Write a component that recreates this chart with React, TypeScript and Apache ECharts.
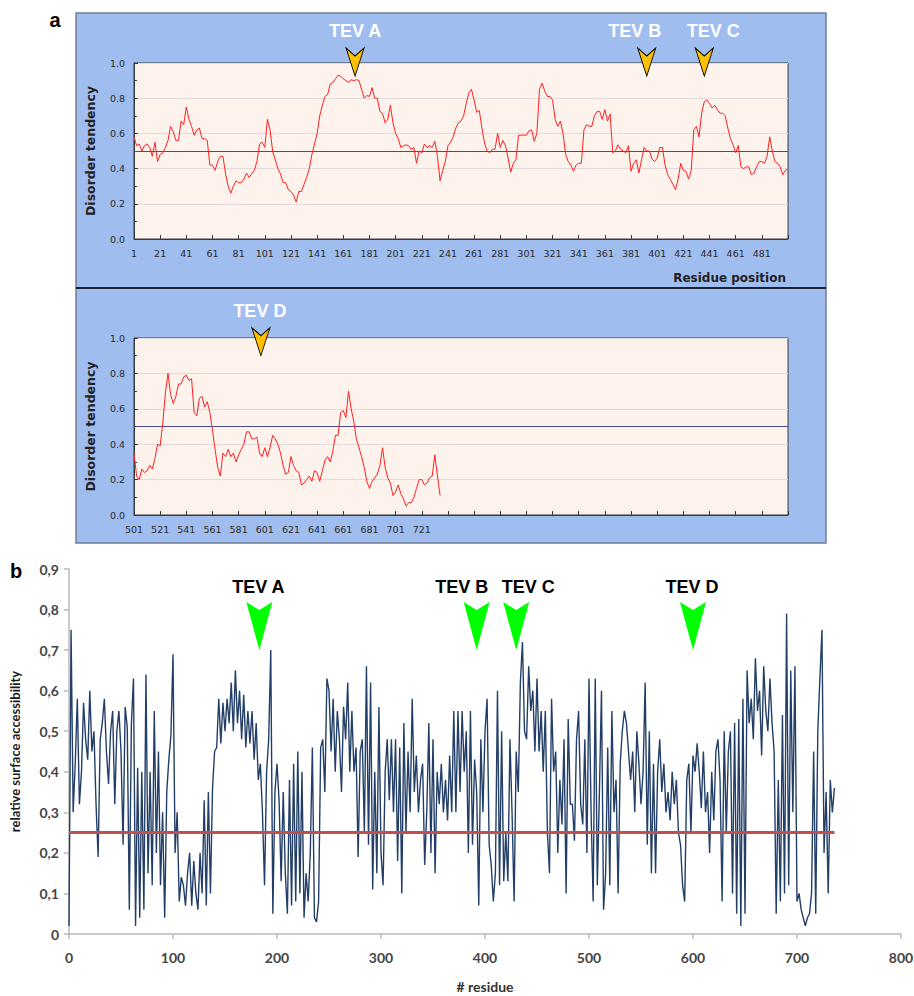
import React, { useEffect, useRef } from "react";
import * as echarts from "echarts";

// ---------- DATA ----------
// Panel a (upper): disorder tendency, residues 1..501, one value every 2 residues
const disorderUpperStart = 1;
const disorderStep = 2;
const disorderUpper = [
  0.58,0.53,0.54,0.50,0.53,0.54,0.52,0.47,0.55,0.44,
  0.48,0.49,0.52,0.56,0.64,0.61,0.56,0.56,0.67,0.65,
  0.75,0.68,0.64,0.59,0.62,0.63,0.57,0.57,0.56,0.42,
  0.42,0.39,0.44,0.47,0.47,0.37,0.30,0.26,0.30,0.33,
  0.32,0.32,0.34,0.375,0.35,0.37,0.39,0.44,0.54,0.55,
  0.52,0.68,0.62,0.50,0.45,0.40,0.37,0.32,0.32,0.28,
  0.27,0.25,0.21,0.27,0.27,0.31,0.35,0.40,0.48,0.54,
  0.60,0.70,0.76,0.81,0.82,0.88,0.89,0.91,0.93,0.925,
  0.91,0.90,0.89,0.905,0.90,0.905,0.90,0.85,0.80,0.815,
  0.81,0.86,0.80,0.80,0.725,0.715,0.66,0.68,0.76,0.66,
  0.60,0.57,0.52,0.53,0.535,0.53,0.51,0.52,0.43,0.50,
  0.49,0.54,0.52,0.53,0.52,0.555,0.47,0.33,0.39,0.44,
  0.53,0.55,0.58,0.63,0.66,0.67,0.70,0.77,0.83,0.85,
  0.79,0.72,0.73,0.63,0.545,0.50,0.49,0.51,0.51,0.60,
  0.52,0.56,0.53,0.46,0.38,0.43,0.45,0.59,0.59,0.59,
  0.59,0.615,0.62,0.555,0.60,0.85,0.885,0.84,0.81,0.81,
  0.79,0.68,0.64,0.67,0.60,0.48,0.44,0.42,0.385,0.42,
  0.43,0.43,0.62,0.65,0.64,0.64,0.70,0.725,0.725,0.68,
  0.735,0.67,0.71,0.49,0.50,0.535,0.51,0.50,0.49,0.53,
  0.385,0.43,0.45,0.375,0.45,0.52,0.50,0.50,0.455,0.44,
  0.46,0.52,0.52,0.42,0.365,0.34,0.31,0.28,0.34,0.43,
  0.39,0.385,0.34,0.39,0.62,0.64,0.58,0.715,0.78,0.79,
  0.77,0.745,0.76,0.735,0.715,0.715,0.70,0.63,0.57,0.535,
  0.49,0.53,0.41,0.40,0.41,0.41,0.365,0.375,0.41,0.44,
  0.44,0.43,0.47,0.58,0.50,0.44,0.43,0.41,0.365,0.39,
  0.40,
];

// Panel a (lower): disorder tendency, residues 501..735
const disorderLowerStart = 501;
const disorderLower = [
  0.35,0.22,0.20,0.26,0.24,0.25,0.28,0.26,0.32,0.40,
  0.39,0.52,0.69,0.80,0.68,0.63,0.67,0.74,0.74,0.78,
  0.79,0.76,0.77,0.58,0.56,0.66,0.67,0.61,0.64,0.58,
  0.48,0.37,0.27,0.22,0.35,0.33,0.37,0.33,0.35,0.30,
  0.34,0.37,0.40,0.47,0.47,0.43,0.43,0.44,0.35,0.33,
  0.38,0.33,0.38,0.45,0.43,0.40,0.35,0.28,0.23,0.24,
  0.33,0.28,0.25,0.24,0.17,0.18,0.20,0.22,0.19,0.25,
  0.24,0.19,0.25,0.31,0.33,0.30,0.36,0.45,0.45,0.58,
  0.59,0.55,0.70,0.60,0.53,0.43,0.38,0.33,0.27,0.19,
  0.15,0.19,0.21,0.23,0.28,0.38,0.27,0.21,0.18,0.11,
  0.13,0.17,0.12,0.09,0.05,0.07,0.07,0.10,0.15,0.20,
  0.20,0.17,0.18,0.21,0.22,0.34,0.22,0.11,
];
const disorderThreshold = 0.5;

// Panel b: relative surface accessibility, residues 0..736, one value every 2 residues
const rsaStart = 0;
const rsaStep = 2;
const rsa = [
  0.02,0.75,0.30,0.42,0.58,0.32,0.40,0.57,0.48,0.43,
  0.60,0.45,0.50,0.32,0.19,0.48,0.52,0.58,0.45,0.37,
  0.50,0.55,0.32,0.50,0.55,0.45,0.22,0.56,0.51,0.06,
  0.52,0.63,0.02,0.41,0.04,0.40,0.06,0.64,0.15,0.40,
  0.12,0.55,0.20,0.45,0.12,0.30,0.04,0.35,0.43,0.49,
  0.69,0.20,0.30,0.08,0.14,0.12,0.07,0.15,0.20,0.07,
  0.18,0.10,0.06,0.20,0.10,0.33,0.07,0.35,0.10,0.36,
  0.45,0.46,0.58,0.47,0.57,0.50,0.58,0.52,0.62,0.50,
  0.65,0.52,0.60,0.48,0.59,0.46,0.55,0.47,0.55,0.43,
  0.52,0.38,0.42,0.30,0.12,0.40,0.48,0.70,0.05,
  0.35,0.42,0.33,0.13,0.35,0.15,0.05,0.38,0.07,0.42,
  0.08,0.45,0.10,0.40,0.04,0.15,0.08,0.20,0.46,0.04,
  0.03,0.08,0.46,0.48,0.35,0.63,0.60,0.45,0.58,0.40,
  0.55,0.48,0.35,0.56,0.48,0.62,0.40,0.55,0.40,0.46,
  0.19,0.45,0.48,0.25,0.66,0.22,0.62,0.11,0.40,0.15,
  0.56,0.20,0.12,0.40,0.48,0.33,0.48,0.30,0.48,0.18,
  0.46,0.10,0.52,0.25,0.45,0.30,0.58,0.35,0.44,0.30,
  0.38,0.42,0.17,0.30,0.52,0.20,0.48,0.15,0.40,0.32,
  0.42,0.30,0.38,0.28,0.44,0.30,0.55,0.30,0.55,0.35,
  0.55,0.40,0.50,0.20,0.55,0.22,0.43,0.35,0.07,
  0.48,0.30,0.50,0.58,0.22,0.17,0.08,0.15,0.60,0.12,
  0.50,0.13,0.25,0.13,0.48,0.30,0.08,0.45,0.35,0.62,
  0.72,0.50,0.48,0.66,0.55,0.60,0.45,0.63,0.45,0.55,
  0.40,0.55,0.25,0.15,0.58,0.40,0.45,0.20,0.38,0.27,
  0.48,0.10,0.53,0.32,0.32,0.23,0.48,0.55,0.32,0.27,
  0.48,0.20,0.63,0.30,0.08,0.63,0.12,0.35,0.60,0.06,
  0.15,0.46,0.12,0.55,0.30,0.38,0.10,0.42,0.50,0.55,
  0.52,0.45,0.38,0.45,0.30,0.50,0.42,0.32,0.40,0.62,
  0.22,0.50,0.15,0.42,0.15,0.40,0.48,0.35,0.42,0.30,
  0.35,0.28,0.40,0.32,0.38,0.25,0.22,0.12,0.08,
  0.38,0.42,0.25,0.44,0.40,0.47,0.40,0.31,0.45,0.30,
  0.35,0.20,0.40,0.28,0.45,0.48,0.38,0.08,0.50,0.25,
  0.45,0.50,0.10,0.52,0.05,0.53,0.02,0.58,0.05,0.65,
  0.52,0.58,0.48,0.68,0.55,0.60,0.44,0.66,0.55,0.50,
  0.63,0.52,0.45,0.05,0.38,0.08,0.54,0.10,0.79,0.12,
  0.65,0.30,0.66,0.08,0.10,0.06,0.04,0.02,0.04,0.05,
  0.10,0.45,0.05,0.50,0.63,0.75,0.20,0.35,0.10,0.38,
  0.30,0.36,
];
const rsaThreshold = 0.25;

// TEV cleavage-site annotations (residue positions)
const tevNamesA = ["TEV A", "TEV B", "TEV C"];
const tevResiduesA = [170, 393, 437];
const tevNamesD = ["TEV D"];
const tevResiduesD = [598];
const tevNamesB = ["TEV A", "TEV B", "TEV C", "TEV D"];
const tevResiduesB = [183, 392, 430, 600];

// ---------- STYLE ----------
const labelShift: Record<string, number> = { "TEV A": 0, "TEV B": -12, "TEV C": 9, "TEV D": -1 };
const labelShiftB: Record<string, number> = { "TEV A": -1, "TEV B": -15, "TEV C": 12, "TEV D": -1 };

const yellowArrow = "path://M0 0 L9 8 L18 0 L9 28 Z";
const greenArrow = "path://M0 0 L13 8 L26 0 L13 48 Z";

export default function App() {
  const ref = useRef<HTMLDivElement>(null);

  useEffect(() => {
    if (!ref.current) return;
    const chart = echarts.init(ref.current, undefined, { renderer: "svg" });

    const upperData = disorderUpper.map((v, i) => [i * disorderStep + disorderUpperStart - 1, v]);
    const lowerData = disorderLower.map((v, i) => [i * disorderStep, v]);
    const rsaData = rsa.map((v, i) => [rsaStart + i * rsaStep, v]);
    const rsaEnd = rsaStart + (rsa.length - 1) * rsaStep;

    const yellowMarks = (names: string[], residues: number[], start: number, tipY: number) =>
      names.map((n, k) => ({
        name: n,
        coord: [residues[k] - start, tipY],
        symbol: yellowArrow,
        symbolSize: [18, 28],
        symbolOffset: [0, "-50%"],
        itemStyle: { color: "#ffc000", borderColor: "#000", borderWidth: 1 },
        label: {
          show: true,
          formatter: n,
          position: "top",
          distance: 7,
          offset: [labelShift[n], 0],
          color: "#ffffff",
          fontSize: 18,
          fontWeight: "bold",
          fontFamily: "Liberation Sans, Arial, sans-serif",
          textBorderWidth: 0,
        },
      }));

    const greenMarks = tevNamesB.map((n, k) => ({
      name: n,
      coord: [tevResiduesB[k], 0.7],
      symbol: greenArrow,
      symbolSize: [26, 48],
      symbolOffset: [0, "-50%"],
      itemStyle: { color: "#00ff00" },
      label: {
        show: true,
        formatter: n,
        position: "top",
        distance: 6,
        offset: [labelShiftB[n], 0],
        color: "#000000",
        fontSize: 18,
        fontWeight: "bold",
        fontFamily: "Liberation Sans, Arial, sans-serif",
        textBorderWidth: 0,
      },
    }));

    const disorderXAxis = (gridIndex: number, base: number, lastLabel: number) => ({
      type: "value",
      gridIndex,
      min: 0,
      max: 500,
      interval: 20,
      axisLine: { show: true, lineStyle: { color: "#3a3a3a", width: 1 } },
      axisTick: { show: true, inside: true, length: 4, lineStyle: { color: "#3a3a3a" } },
      splitLine: { show: false },
      axisLabel: {
        show: true,
        margin: 9,
        fontSize: 9.5,
        fontFamily: "DejaVu Sans",
        color: "#2a2a2a",
        formatter: (v: number) => (v <= lastLabel ? String(v + base) : ""),
      },
    });
    const disorderYAxis = (gridIndex: number) => ({
      type: "value",
      gridIndex,
      min: 0,
      max: 1,
      interval: 0.2,
      name: "Disorder tendency",
      nameLocation: "middle",
      nameGap: 37,
      nameRotate: 90,
      nameTextStyle: { fontSize: 12.5, fontWeight: "bold", fontFamily: "DejaVu Sans", color: "#222" },
      axisLine: { show: true, lineStyle: { color: "#3a3a3a", width: 1 } },
      axisTick: { show: true, inside: true, length: 4, lineStyle: { color: "#3a3a3a" } },
      minorTick: { show: true, splitNumber: 2, length: 3, lineStyle: { color: "#3a3a3a" } },
      splitLine: { show: true, lineStyle: { color: "#e2dada", width: 1 } },
      axisLabel: {
        margin: 9,
        fontSize: 9.5,
        fontFamily: "DejaVu Sans",
        color: "#2a2a2a",
        formatter: (v: number) => v.toFixed(1),
      },
    });

    const option: any = {
      animation: false,
      backgroundColor: "#ffffff",
      graphic: [
        {
          type: "rect",
          z: -10,
          shape: { x: 76, y: 13, width: 750, height: 530 },
          style: { fill: "#a0bdf0", stroke: "#6f7d92", lineWidth: 1.5 },
        },
        {
          type: "line",
          z: -9,
          shape: { x1: 76, y1: 288, x2: 826, y2: 288 },
          style: { stroke: "#1c2230", lineWidth: 2 },
        },
        {
          type: "text",
          x: 786,
          y: 278,
          style: {
            text: "Residue position",
            align: "right",
            verticalAlign: "middle",
            fill: "#222",
            font: "bold 12px 'DejaVu Sans'",
          },
        },
        {
          type: "text",
          x: 55,
          y: 20,
          style: { text: "a", align: "center", verticalAlign: "middle", fill: "#000", font: "bold 20px 'Liberation Sans', Arial" },
        },
        {
          type: "text",
          x: 16,
          y: 571,
          style: { text: "b", align: "center", verticalAlign: "middle", fill: "#000", font: "bold 20px 'Liberation Sans', Arial" },
        },
      ],
      grid: [
        { left: 134, top: 63, width: 654, height: 176, show: true, backgroundColor: "#fdf3ec", borderColor: "#3a3a3a", borderWidth: 1, outerBoundsMode: "none", containLabel: false },
        { left: 134, top: 338, width: 654, height: 177, show: true, backgroundColor: "#fdf3ec", borderColor: "#3a3a3a", borderWidth: 1, outerBoundsMode: "none", containLabel: false },
        { left: 69, top: 569, width: 832, height: 365, show: false, outerBoundsMode: "none", containLabel: false },
      ],
      xAxis: [
        disorderXAxis(0, disorderUpperStart, 480),
        disorderXAxis(1, disorderLowerStart, 220),
        {
          type: "value",
          gridIndex: 2,
          min: 0,
          max: 800,
          interval: 100,
          name: "# residue",
          nameLocation: "middle",
          nameGap: 45,
          nameTextStyle: { fontSize: 14, fontWeight: "bold", fontFamily: "Lato", color: "#333" },
          axisLine: { show: true, lineStyle: { color: "#b8b8b8", width: 1.5 } },
          axisTick: { show: true, inside: false, length: 5, lineStyle: { color: "#b8b8b8", width: 1.5 } },
          splitLine: { show: false },
          axisLabel: { margin: 16, fontSize: 14, fontWeight: "bold", fontFamily: "Lato", color: "#454545" },
        },
      ],
      yAxis: [
        disorderYAxis(0),
        disorderYAxis(1),
        {
          type: "value",
          gridIndex: 2,
          min: 0,
          max: 0.9,
          interval: 0.1,
          name: "relative surface accessibility",
          nameLocation: "middle",
          nameGap: 48,
          nameRotate: 90,
          nameTextStyle: { fontSize: 13, fontWeight: "bold", fontFamily: "Lato", color: "#1a1a1a" },
          axisLine: { show: true, lineStyle: { color: "#b8b8b8", width: 1.5 } },
          axisTick: { show: true, inside: false, length: 5, lineStyle: { color: "#b8b8b8", width: 1.5 } },
          splitLine: { show: false },
          axisLabel: {
            margin: 10,
            fontSize: 14,
            fontWeight: "bold",
            fontFamily: "Lato",
            color: "#454545",
            formatter: (v: number) => (v === 0 ? "0" : v.toFixed(1).replace(".", ",")),
          },
        },
      ],
      series: [
        {
          type: "line",
          xAxisIndex: 0,
          yAxisIndex: 0,
          data: upperData,
          symbol: "none",
          lineStyle: { color: "#ff2020", width: 1 },
          z: 3,
          markLine: {
            silent: true,
            symbol: "none",
            label: { show: false },
            lineStyle: { color: "#4a4a8e", width: 1, type: "solid" },
            data: [{ yAxis: disorderThreshold }],
            z: 2,
          },
          markPoint: { data: yellowMarks(tevNamesA, tevResiduesA, disorderUpperStart, 0.926), z: 5 },
        },
        {
          type: "line",
          xAxisIndex: 1,
          yAxisIndex: 1,
          data: lowerData,
          symbol: "none",
          lineStyle: { color: "#ff2020", width: 1 },
          z: 3,
          markLine: {
            silent: true,
            symbol: "none",
            label: { show: false },
            lineStyle: { color: "#4a4a8e", width: 1, type: "solid" },
            data: [{ yAxis: disorderThreshold }],
            z: 2,
          },
          markPoint: { data: yellowMarks(tevNamesD, tevResiduesD, disorderLowerStart, 0.9), z: 5 },
        },
        {
          type: "line",
          xAxisIndex: 2,
          yAxisIndex: 2,
          data: rsaData,
          symbol: "none",
          lineStyle: { color: "#233f68", width: 1.4 },
          z: 3,
          markPoint: { data: greenMarks, z: 5 },
        },
        {
          type: "line",
          xAxisIndex: 2,
          yAxisIndex: 2,
          data: [
            [rsaStart, rsaThreshold],
            [rsaEnd, rsaThreshold],
          ],
          symbol: "none",
          lineStyle: { color: "#c0504d", width: 3 },
          z: 4,
        },
      ],
    };

    chart.setOption(option);
    return () => chart.dispose();
  }, []);

  return <div ref={ref} style={{ position: "absolute", left: 0, top: 0, width: 914, height: 996 }} />;
}
